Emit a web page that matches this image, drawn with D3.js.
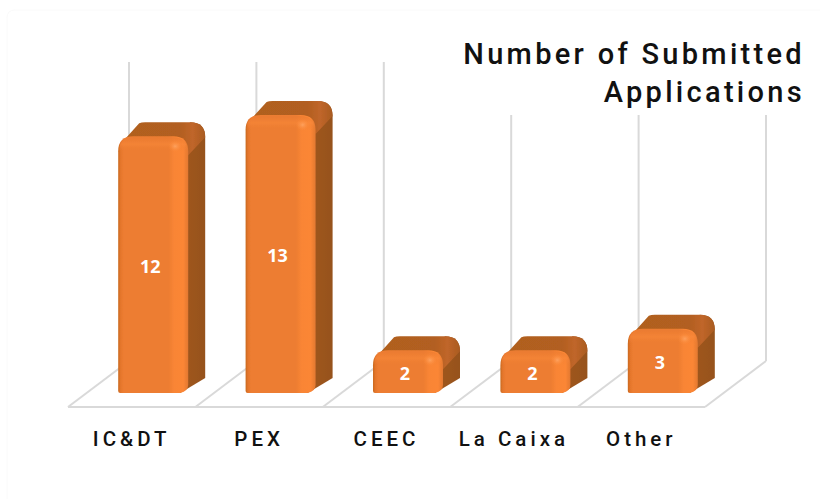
<!DOCTYPE html>
<html>
<head>
<meta charset="utf-8">
<script src="https://cdn.jsdelivr.net/npm/d3@7"></script>
<style>
  html, body { margin: 0; padding: 0; background: #fff; }
  svg { display: block; }
</style>
</head>
<body>
<svg class="svg-chart"></svg>
<script>
const categories = ["IC&DT", "PEX", "CEEC", "La Caixa", "Other"]
const values = [12, 13, 2, 2, 3]
const titleLines = ["Number of Submitted", "Applications"]

const width = 820, height = 499
const depthX = 17, depthY = 14      // bar side
const floorX = 61, floorY = 46      // floor depth
const barW = 70
const floorFront = 407

const svg = d3.select(".svg-chart").attr("width", width).attr("height", height)
const defs = svg.append("defs")

const x_scale = d3.scaleBand().domain(categories).range([68, 705])
const y_scale = d3.scaleLinear().domain([0, 14]).range([393, 93.5])
const gridY = d3.scaleLinear().domain([0, 14]).range([floorFront - floorY, floorFront - floorY - 299])

// gradients
const grad = (id, dir, stops) => {
    const g = defs.append("linearGradient").attr("id", id)
        .attr("x1", 0).attr("y1", 0)
        .attr("x2", dir == "h" ? 1 : 0).attr("y2", dir == "h" ? 0 : 1)
    stops.forEach(s => g.append("stop").attr("offset", s[0]).attr("stop-color", s[1]).attr("stop-opacity", s[2] === undefined ? 1 : s[2]))
}
grad("front", "h", [[0, "#c9691f"], [0.035, "#e5762c"], [0.08, "#ed7d31"], [0.72, "#ed7d31"], [0.8, "#f98535"], [0.93, "#fb8635"], [1, "#e27830"]])
grad("bevel", "v", [[0, "#e8782e", 0.6], [0.5, "#f8883a", 0.6], [1, "#ed7d31", 0]])
grad("side", "h", [[0, "#a3581f"], [1, "#96521d"]])
grad("topface", "h", [[0, "#b0601f"], [0.7, "#b25f20"], [0.85, "#c0662a"], [1, "#a95b20"]])
defs.append("radialGradient").attr("id", "spot")
    .selectAll("stop").data([["0", "#ffa868", 0.8], ["1", "#ff8a35", 0]]).enter().append("stop")
    .attr("offset", d => d[0]).attr("stop-color", d => d[1]).attr("stop-opacity", d => d[2])
defs.append("filter").attr("id", "soft")
    .append("feGaussianBlur").attr("stdDeviation", 0.5)

// faint page frame
svg.append("path").attr("d", "M7,499 L7,18 Q7,10 15,10 L820,10")
    .attr("fill", "none").attr("stroke", "#fafafa").attr("stroke-width", 1)

// floor and back grid lines
const grid = svg.append("g").attr("stroke", "#d9d9d9").attr("stroke-width", 2).attr("fill", "none")
const edges = categories.map(c => x_scale(c)).concat([x_scale.range()[1]])

edges.forEach(e => {
    grid.append("line").attr("x1", e).attr("y1", floorFront)
        .attr("x2", e + floorX).attr("y2", gridY(0))
    grid.append("line").attr("x1", e + floorX).attr("y1", gridY(0))
        .attr("x2", e + floorX).attr("y2", gridY(14))
})
grid.append("line").attr("x1", edges[0]).attr("y1", floorFront)
    .attr("x2", edges[edges.length - 1]).attr("y2", floorFront)

// title sits on a white box that hides the top of the last lines
svg.append("rect").attr("x", 400).attr("y", 30).attr("width", 410).attr("height", 85).attr("fill", "#fff")

svg.append("g").selectAll("text").data(titleLines).enter().append("text")
    .attr("x", 805)
    .attr("y", (d, i) => 64 + i * 38)
    .attr("text-anchor", "end")
    .attr("font-family", "Roboto, sans-serif")
    .attr("font-weight", 500)
    .attr("font-size", 29)
    .attr("letter-spacing", 3.3)
    .attr("fill", "#111")
    .text(d => d)

// bars
const barPath = (x0, x1, y0, y1) => {
    const r = Math.min(15, (y1 - y0) / 2)
    return `M${x0 + 2},${y1} Q${x0},${y1} ${x0},${y1 - 2} L${x0},${y0 + r} Q${x0},${y0} ${x0 + r},${y0}
            L${x1 - r},${y0} Q${x1},${y0} ${x1},${y0 + r} L${x1},${y1 - 8} Q${x1},${y1 - 2} ${x1 - 8},${y1} Z`
}

const bars = svg.append("g").selectAll("g").data(values).enter().append("g")

bars.each(function (d, i) {
    const g = d3.select(this)
    const x0 = x_scale(categories[i]) + x_scale.bandwidth() / 2 + 21.5 - barW / 2
    const x1 = x0 + barW
    const y0 = y_scale(d), y1 = y_scale(0)
    const r = 15
    const bx = x1 + depthX, by = y0 - depthY

    const shape = g.append("g").attr("filter", "url(#soft)")
    // side
    shape.append("path")
        .attr("d", `M${x1 - 10},${y0 + 2} L${x1 - 10},${y1} L${x1 - 8},${y1} L${bx},${y1 - depthY - 1}
            L${bx},${by + r} Q${bx},${by} ${bx - r},${by} Z`)
        .attr("fill", "url(#side)")
    // top
    shape.append("path")
        .attr("d", `M${x0 + 3},${y0 + 7} L${x0 + 21},${by + 1} Q${x0 + 23},${by} ${x0 + 27},${by}
            L${bx - r},${by} Q${bx},${by} ${bx},${by + r} L${x1},${y0 + r + 4} L${x1 - 8},${y0 + 3} Z`)
        .attr("fill", "url(#topface)")
    // front
    shape.append("path").attr("d", barPath(x0, x1, y0, y1)).attr("fill", "url(#front)")
    // top bevel
    shape.append("path")
        .attr("d", `M${x0 + 1},${y0 + 15} Q${x0 + 1},${y0 + 1} ${x0 + 15},${y0 + 1} L${x1 - 15},${y0 + 1} Q${x1 - 1},${y0 + 1} ${x1 - 1},${y0 + 15} Z`)
        .attr("fill", "url(#bevel)")
    // corner highlight
    shape.append("ellipse").attr("cx", x1 - 13).attr("cy", y0 + 10).attr("rx", 7).attr("ry", 6).attr("fill", "url(#spot)")

    // value
    g.append("text")
        .attr("x", (x0 + x1) / 2 - 3)
        .attr("y", (y0 + y1) / 2 + 8.5)
        .attr("text-anchor", "middle")
        .attr("font-family", "'Open Sans', sans-serif")
        .attr("font-weight", 700)
        .attr("font-size", 18)
        .attr("fill", "#fff")
        .text(d)
})

// category labels
const x_axis = d3.axisBottom().scale(x_scale).tickSize(0).tickPadding(0)
const axisG = svg.append("g")
    .attr("transform", "translate(0,431)")
    .call(x_axis)
axisG.select(".domain").remove()
axisG.selectAll("text")
    .attr("font-family", "Roboto, sans-serif")
    .attr("font-weight", 500)
    .attr("font-size", 20.5)
    .attr("letter-spacing", 4)
    .attr("fill", "#111")
</script>
</body>
</html>
